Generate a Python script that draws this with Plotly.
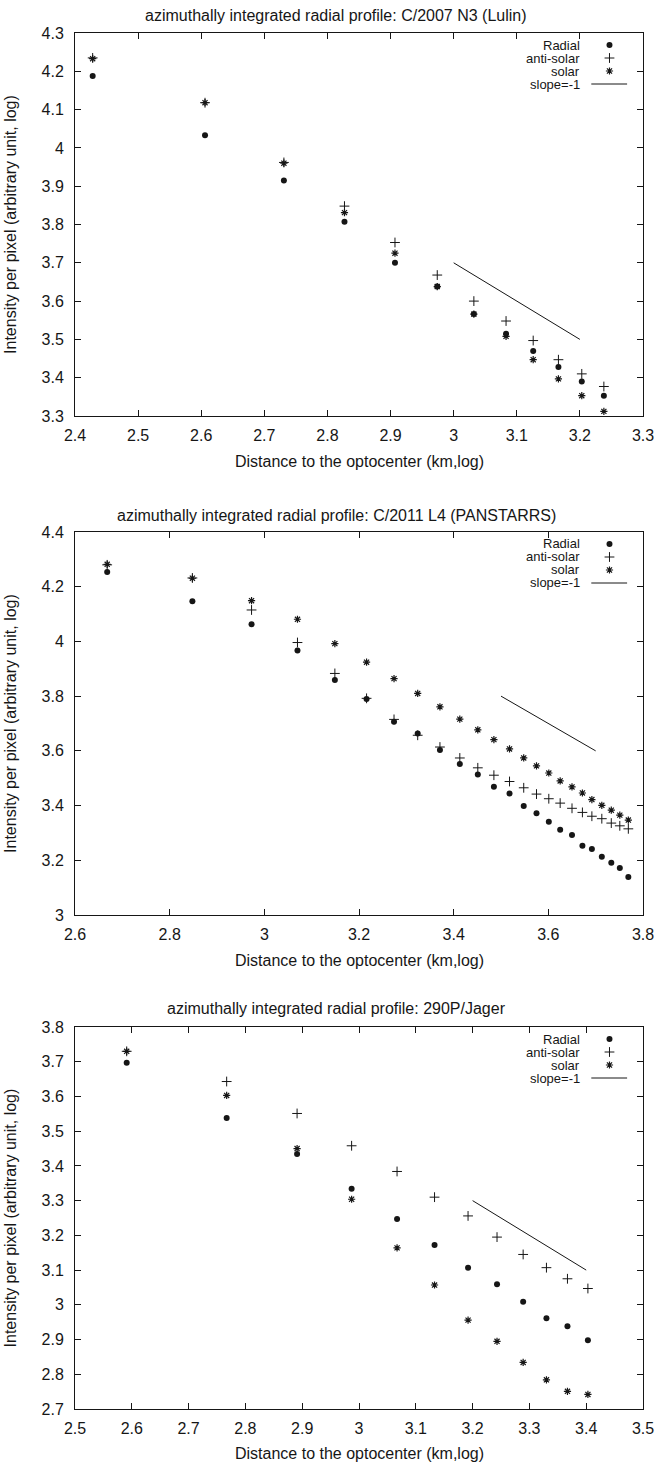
import plotly.graph_objects as go

# ---------------- data ----------------
titles = [
    "azimuthally integrated radial profile: C/2007 N3 (Lulin)",
    "azimuthally integrated radial profile: C/2011 L4 (PANSTARRS)",
    "azimuthally integrated radial profile: 290P/Jager",
]
x_title = "Distance to the optocenter (km,log)"
y_title = "Intensity per pixel (arbitrary unit, log)"
legend_names = ["Radial", "anti-solar", "solar", "slope=-1"]

x1 = [2.428, 2.606, 2.731, 2.827, 2.907, 2.974, 3.032, 3.083, 3.126, 3.166, 3.203, 3.238]
radial1 = [4.188, 4.033, 3.915, 3.807, 3.700, 3.638, 3.566, 3.515, 3.470, 3.428, 3.390, 3.353]
anti1 = [4.235, 4.118, 3.962, 3.848, 3.753, 3.668, 3.600, 3.548, 3.497, 3.447, 3.410, 3.377]
solar1 = [4.233, 4.118, 3.960, 3.831, 3.725, 3.638, 3.566, 3.508, 3.447, 3.397, 3.353, 3.312]

x2 = [2.668, 2.848, 2.973, 3.070, 3.149, 3.216, 3.274, 3.324, 3.371, 3.413, 3.451, 3.485,
      3.518, 3.548, 3.575, 3.601, 3.625, 3.650, 3.672, 3.692, 3.713, 3.733, 3.751, 3.769]
radial2 = [4.254, 4.147, 4.063, 3.967, 3.859, 3.790, 3.706, 3.663, 3.603, 3.552, 3.514, 3.469,
           3.444, 3.398, 3.372, 3.341, 3.312, 3.292, 3.253, 3.241, 3.213, 3.191, 3.172, 3.139]
anti2 = [4.280, 4.232, 4.115, 3.996, 3.883, 3.792, 3.715, 3.657, 3.614, 3.574, 3.538, 3.511,
         3.488, 3.465, 3.442, 3.425, 3.409, 3.390, 3.375, 3.361, 3.352, 3.336, 3.326, 3.315]
solar2 = [4.282, 4.231, 4.149, 4.081, 3.992, 3.924, 3.864, 3.810, 3.761, 3.716, 3.677, 3.641,
          3.607, 3.574, 3.545, 3.519, 3.490, 3.468, 3.446, 3.422, 3.401, 3.383, 3.365, 3.347]

x3 = [2.591, 2.767, 2.891, 2.987, 3.067, 3.133, 3.192, 3.243, 3.289, 3.330, 3.367, 3.403]
radial3 = [3.697, 3.538, 3.434, 3.334, 3.247, 3.172, 3.107, 3.059, 3.009, 2.961, 2.938, 2.898]
anti3 = [3.730, 3.643, 3.551, 3.458, 3.384, 3.310, 3.256, 3.195, 3.145, 3.107, 3.075, 3.047]
solar3 = [3.730, 3.603, 3.450, 3.304, 3.164, 3.057, 2.956, 2.895, 2.834, 2.784, 2.751, 2.742]

slope_x = [[3.0, 3.2], [3.5, 3.7], [3.2, 3.4]]
slope_y = [[3.7, 3.5], [3.8, 3.6], [3.3, 3.1]]

x_ranges = [[2.4, 3.3], [2.6, 3.8], [2.5, 3.5]]
y_ranges = [[3.3, 4.3], [3.0, 4.4], [2.7, 3.8]]
x_dticks = [0.1, 0.2, 0.1]
y_dticks = [0.1, 0.2, 0.1]

# ---------------- layout geometry ----------------
W, H = 666, 1465
ML, MR, MT, MB = 75, 19, 33, 56
PH = H - MT - MB
PW = W - ML - MR
panels_px = [(33, 416), (532, 915), (1027, 1409)]
title_px = [16, 515, 1008]


def ypaper(py):
    return 1 - (py - MT) / PH


def xpaper(px):
    return (px - ML) / PW


FONT = "Liberation Sans, Arial, sans-serif"
INK = "#161616"
BIG = 16
SMALL = 13

fig = go.Figure()
data = [
    (x1, radial1, anti1, solar1),
    (x2, radial2, anti2, solar2),
    (x3, radial3, anti3, solar3),
]

M_RAD = dict(symbol="circle", size=6, color=INK, line=dict(width=0))
M_ANTI = dict(symbol="cross-thin-open", size=7, color=INK, line=dict(color=INK, width=1))
M_SOL = dict(symbol="asterisk-open", size=6, color=INK, line=dict(color=INK, width=1.2))

annotations = []
for i, (xs, rad, anti, sol) in enumerate(data):
    n = "" if i == 0 else str(i + 1)
    xa, ya = "x" + n, "y" + n
    fig.add_trace(go.Scatter(x=xs, y=rad, mode="markers", xaxis=xa, yaxis=ya,
                             marker=M_RAD, showlegend=False, name=legend_names[0]))
    fig.add_trace(go.Scatter(x=xs, y=anti, mode="markers", xaxis=xa, yaxis=ya,
                             marker=M_ANTI, showlegend=False, name=legend_names[1]))
    fig.add_trace(go.Scatter(x=xs, y=sol, mode="markers", xaxis=xa, yaxis=ya,
                             marker=M_SOL, showlegend=False, name=legend_names[2]))
    fig.add_trace(go.Scatter(x=slope_x[i], y=slope_y[i], mode="lines", xaxis=xa, yaxis=ya,
                             line=dict(color=INK, width=1),
                             showlegend=False, name=legend_names[3]))

    # legend (gnuplot style: text right-aligned, key on the right)
    top, bot = panels_px[i]
    ph = bot - top
    xr, yr = x_ranges[i], y_ranges[i]

    def to_data(fx, fy):
        return xr[0] + fx * (xr[1] - xr[0]), yr[0] + fy * (yr[1] - yr[0])

    rows_px = [12, 25, 38, 51]
    for k, name in enumerate(legend_names):
        fy = 1 - rows_px[k] / ph
        annotations.append(dict(text=name, xref=xa + " domain", yref=ya + " domain",
                                x=0.893, y=fy, xanchor="right", yanchor="middle",
                                showarrow=False, font=dict(size=SMALL, color=INK, family=FONT)))
    for k, mk in enumerate([M_RAD, M_ANTI, M_SOL]):
        kx, ky = to_data(0.941, 1 - rows_px[k] / ph)
        fig.add_trace(go.Scatter(x=[kx], y=[ky], mode="markers", xaxis=xa, yaxis=ya,
                                 marker=mk, showlegend=False, hoverinfo="skip"))
    lx0, ly = to_data(0.909, 1 - rows_px[3] / ph)
    lx1, _ = to_data(0.972, 1 - rows_px[3] / ph)
    fig.add_trace(go.Scatter(x=[lx0, lx1], y=[ly, ly], mode="lines", xaxis=xa, yaxis=ya,
                             line=dict(color=INK, width=1), showlegend=False, hoverinfo="skip"))

    # panel title and axis titles
    annotations.append(dict(text=titles[i], xref="paper", yref="paper",
                            x=xpaper(338), y=ypaper(title_px[i]),
                            xanchor="center", yanchor="middle", showarrow=False,
                            font=dict(size=BIG, color=INK, family=FONT)))
    annotations.append(dict(text=x_title, xref="paper", yref="paper",
                            x=xpaper(361), y=ypaper(bot + 45),
                            xanchor="center", yanchor="middle", showarrow=False,
                            font=dict(size=BIG, color=INK, family=FONT)))
    annotations.append(dict(text=y_title, xref="paper", yref="paper", textangle=-90,
                            x=xpaper(10), y=ypaper((top + bot) / 2),
                            xanchor="center", yanchor="middle", showarrow=False,
                            font=dict(size=BIG, color=INK, family=FONT)))

    axis_common = dict(showline=True, linecolor=INK, linewidth=1, mirror="ticks",
                       ticks="inside", ticklen=6, tickcolor=INK, tickwidth=1,
                       showgrid=False, zeroline=False,
                       tickfont=dict(size=BIG, color=INK, family=FONT))
    fig.update_layout(**{
        "xaxis" + n: dict(axis_common, range=xr, dtick=x_dticks[i], tick0=xr[0],
                          anchor=ya, domain=[0, 1], ticklabelstandoff=5),
        "yaxis" + n: dict(axis_common, range=yr, dtick=y_dticks[i], tick0=yr[0],
                          anchor=xa, domain=[ypaper(bot), ypaper(top)],
                          ticklabelstandoff=7),
    })

fig.update_layout(width=W, height=H, margin=dict(l=ML, r=MR, t=MT, b=MB),
                  paper_bgcolor="white", plot_bgcolor="white",
                  annotations=annotations, showlegend=False, hovermode=False,
                  font=dict(family=FONT, color=INK))

# remove the browser's default 8px page margin so the figure fills the window exactly
fig.write_html("out.html",
               config={"displayModeBar": False, "staticPlot": True},
               post_script="document.body.style.margin='0';document.body.style.overflow='hidden';")
